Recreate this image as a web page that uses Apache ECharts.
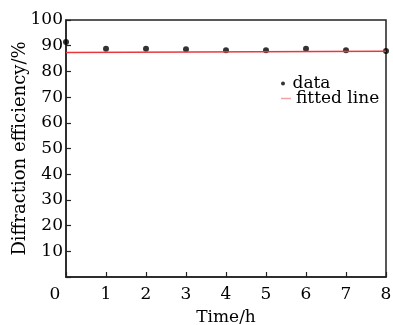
<!DOCTYPE html>
<html>
<head>
<meta charset="utf-8">
<script src="https://cdn.jsdelivr.net/npm/echarts@6/dist/echarts.min.js"></script>
<style>
  html, body {margin: 0; padding: 0; background: #fff;}
  #chart {width: 393px; height: 325px;}
</style>
</head>
<body>
<div id="chart"></div>
<script>
// measured points
const times = [0, 1, 2, 3, 4, 5, 6, 7, 8];
const efficiency = [91.4, 88.8, 88.8, 88.6, 88.2, 88.2, 88.8, 88.2, 87.9];
// fitted line end points
const fitX = [0, 8];
const fitY = [87.4, 87.8];
const yTicks = [0, 10, 20, 30, 40, 50, 60, 70, 80, 90, 100];

const font = 'DejaVu Serif';
const chart = echarts.init(document.getElementById('chart'));

chart.setOption({
  animation: false,
  textStyle: {fontFamily: font, color: '#000'},
  grid: {
    left: 66, right: 7, top: 20, bottom: 48,
    containLabel: false, outerBoundsMode: 'none',
    show: true, borderColor: '#222', borderWidth: 1.5
  },
  legend: [
    {
      left: 276, top: 70, orient: 'vertical', selectedMode: false,
      itemWidth: 9, itemHeight: 4, itemGap: 0,
      textStyle: {fontFamily: font, fontSize: 17, color: '#000'},
      data: [{name: 'data', icon: 'circle'}]
    },
    {
      left: 276, top: 85, orient: 'vertical', selectedMode: false,
      itemWidth: 10, itemHeight: 1.5, itemGap: 0,
      textStyle: {fontFamily: font, fontSize: 17, color: '#000'},
      data: [{name: 'fitted line', icon: 'rect', itemStyle: {color: '#f2a3a3'}}]
    }
  ],
  xAxis: {
    type: 'value', min: 0, max: 8, interval: 1,
    name: 'Time/h', nameLocation: 'middle', nameGap: 32, nameMoveOverlap: false,
    nameTextStyle: {fontFamily: font, fontSize: 17, color: '#000'},
    axisLine: {lineStyle: {color: '#222', width: 1.5}},
    axisTick: {inside: true, length: 5, lineStyle: {color: '#222', width: 1.2}},
    splitLine: {show: false},
    axisLabel: {
      fontFamily: font, fontSize: 17, color: '#000', margin: 9,
      formatter: v => v === 0 ? '{o|0}' : String(v),
      rich: {o: {fontFamily: font, fontSize: 17, color: '#000', padding: [0, 22, 0, 0]}}
    }
  },
  yAxis: {
    type: 'value', min: 0, max: 100, interval: 10,
    name: 'Diffraction efficiency/%', nameLocation: 'middle', nameGap: 37, nameMoveOverlap: false,
    nameTextStyle: {fontFamily: font, fontSize: 18, color: '#000'},
    axisLine: {lineStyle: {color: '#222', width: 1.5}},
    axisTick: {inside: true, length: 5, lineStyle: {color: '#222', width: 1.2}},
    splitLine: {show: false},
    axisLabel: {
      fontFamily: font, fontSize: 17, color: '#000', margin: 3,
      formatter: v => (v === 0 || yTicks.indexOf(v) < 0) ? '' : String(v)
    }
  },
  series: [
    {
      name: 'fitted line', type: 'line', symbol: 'none',
      data: fitX.map((x, i) => [x, fitY[i]]),
      lineStyle: {color: '#e8383d', width: 1.5},
      itemStyle: {color: '#e8383d'}
    },
    {
      name: 'data', type: 'scatter', symbolSize: 6,
      data: times.map((t, i) => [t, efficiency[i]]),
      itemStyle: {color: '#000'}
    }
  ]
});
</script>
</body>
</html>
